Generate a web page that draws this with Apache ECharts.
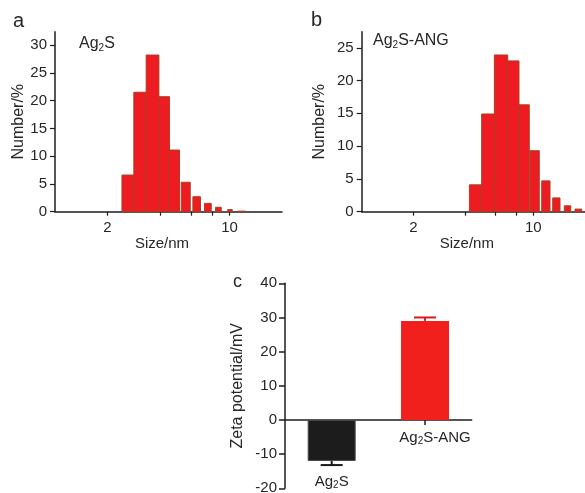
<!DOCTYPE html>
<html>
<head>
<meta charset="utf-8">
<script src="https://cdn.jsdelivr.net/npm/echarts@6/dist/echarts.min.js"></script>
<style>
  html, body { margin: 0; padding: 0; background: #fff; }
  #chart { width: 585px; height: 493px; }
</style>
</head>
<body>
<div id="chart"></div>
<script>
// size distribution, Ag2S (panel a): bin edges in nm and number %
const binLoA = [2.42, 2.83, 3.33, 3.94, 4.53, 5.29, 6.17, 7.19, 8.32, 9.78, 11.1]
const binHiA = [2.83, 3.33, 3.94, 4.53, 5.17, 5.96, 6.82, 7.86, 8.97, 10.37, 12.4]
const pctA = [6.6, 21.5, 28.2, 20.7, 11.1, 5.3, 2.7, 1.5, 0.8, 0.4, 0.1]

// size distribution, Ag2S-ANG (panel b)
const binLoB = [4.24, 5.0, 5.93, 7.09, 8.25, 9.56, 11.19, 12.97, 15.15, 17.49]
const binHiB = [5.0, 5.93, 7.09, 8.25, 9.47, 10.83, 12.51, 14.3, 16.51, 19.13]
const pctB = [4.1, 14.9, 23.9, 23.0, 16.3, 9.3, 4.7, 2.1, 0.9, 0.4]

// zeta potential (panel c)
const samples = ['Ag2S', 'Ag2S-ANG']
const zeta = [-12.0, 29.0]
const zetaErr = [1.2, 1.0]

// ticks
const sizeTicks = [2, 4, 6, 8, 10]
const sizeLabels = [2, 10]
const yTicksA = [0, 5, 10, 15, 20, 25, 30]
const yTicksB = [0, 5, 10, 15, 20, 25]

const FONT = 'Liberation Sans, Arial, sans-serif'
const TXT = '#262626'
const AX = '#1e1e1e'
const RED = '#ee1c22'

const chart = echarts.init(document.getElementById('chart'))

function histItem(params, api) {
  const p0 = api.coord([api.value(0), 0])
  const p1 = api.coord([api.value(1), api.value(2)])
  return {
    type: 'rect',
    shape: { x: p0[0], y: p1[1], width: p1[0] - p0[0], height: p0[1] - p1[1] },
    style: { fill: RED, stroke: '#a8401f', lineWidth: 1 }
  }
}

function errItem(params, api) {
  const a = api.coord([api.value(0), api.value(1)])
  const b = api.coord([api.value(0), api.value(2)])
  const c = params.dataIndex === 0 ? '#1a1a1a' : '#d81c1c'
  return {
    type: 'group',
    children: [
      { type: 'line', shape: { x1: a[0], y1: a[1], x2: b[0], y2: b[1] }, style: { stroke: c, lineWidth: 2 } },
      { type: 'line', shape: { x1: b[0] - 11, y1: b[1], x2: b[0] + 11, y2: b[1] }, style: { stroke: c, lineWidth: 2 } }
    ]
  }
}

// "Ag2S" -> Ag{sub 2}S as rich text
function subLabel(name) {
  return '{t|Ag}{s|2}{t|' + name.slice(3) + '}'
}

const axisLine = { show: true, onZero: true, lineStyle: { color: AX, width: 1.5 } }
const labelStyle = { color: TXT, fontSize: 15, fontFamily: FONT }

function sizeAxis(gridIndex) {
  return {
    type: 'log', gridIndex, min: 1, max: 20, logBase: 10,
    name: 'Size/nm', nameLocation: 'middle', nameGap: 24,
    nameTextStyle: { color: TXT, fontSize: 15, fontFamily: FONT, padding: [0, 13, 0, 0] },
    axisLine,
    axisTick: { show: true, inside: false, customValues: sizeTicks, length: 4, lineStyle: { color: AX, width: 1.2 } },
    axisLabel: Object.assign({ customValues: sizeLabels, margin: 9 }, labelStyle),
    splitLine: { show: false }, minorTick: { show: false }
  }
}

function pctAxis(gridIndex, max, ticks, gap) {
  return {
    type: 'value', gridIndex, min: 0, max,
    name: 'Number/%', nameLocation: 'middle', nameGap: gap,
    nameTextStyle: { color: TXT, fontSize: 16, fontFamily: FONT },
    axisLine,
    axisTick: { show: true, inside: false, customValues: ticks, length: 5, lineStyle: { color: AX, width: 1.2 } },
    axisLabel: Object.assign({ customValues: ticks, margin: 8 }, labelStyle),
    splitLine: { show: false }
  }
}

const barRich = {
  t: { fontSize: 15, color: TXT, fontFamily: FONT },
  s: { fontSize: 10, color: TXT, fontFamily: FONT, padding: [7, 0, 0, 0] }
}

const subRich = {
  t: { fontSize: 16, fill: TXT, fontFamily: FONT },
  s: { fontSize: 10, fill: TXT, fontFamily: FONT, padding: [8, 0, 0, 0] }
}

chart.setOption({
  animation: false,
  backgroundColor: '#fff',
  grid: [
    { left: 55, top: 31.7, width: 227, height: 180, outerBoundsMode: 'none' },
    { left: 361.7, top: 31.7, width: 223.3, height: 180, outerBoundsMode: 'none' },
    { left: 285, top: 283.3, width: 186.7, height: 205, outerBoundsMode: 'none' }
  ],
  xAxis: [
    sizeAxis(0),
    sizeAxis(1),
    {
      type: 'category', gridIndex: 2, data: samples,
      axisLine,
      axisTick: { show: true, inside: false, alignWithLabel: true, length: 5, lineStyle: { color: AX, width: 1.5 } },
      axisLabel: { show: false },
      splitLine: { show: false }
    }
  ],
  yAxis: [
    pctAxis(0, 32.4, yTicksA, 26),
    pctAxis(1, 27.45, yTicksB, 34),
    {
      type: 'value', gridIndex: 2, min: -20, max: 40, interval: 10,
      name: 'Zeta potential/mV', nameLocation: 'middle', nameGap: 39,
      nameTextStyle: { color: TXT, fontSize: 16, fontFamily: FONT },
      axisLine: { show: true, lineStyle: { color: AX, width: 1.5 } },
      axisTick: { show: true, inside: false, length: 6, lineStyle: { color: AX, width: 1.5 } },
      axisLabel: Object.assign({ margin: 8 }, labelStyle),
      splitLine: { show: false }
    }
  ],
  series: [
    {
      type: 'custom', xAxisIndex: 0, yAxisIndex: 0, renderItem: histItem,
      encode: { x: [0, 1], y: 2 },
      data: pctA.map((v, i) => [binLoA[i], binHiA[i], v])
    },
    {
      type: 'custom', xAxisIndex: 1, yAxisIndex: 1, renderItem: histItem,
      encode: { x: [0, 1], y: 2 },
      data: pctB.map((v, i) => [binLoB[i], binHiB[i], v])
    },
    {
      type: 'bar', xAxisIndex: 2, yAxisIndex: 2, barWidth: 48,
      label: {
        show: true, position: 'bottom',
        formatter: p => subLabel(p.name),
        rich: barRich
      },
      data: zeta.map((v, i) => ({
        value: v,
        label: i === 0 ? { distance: 12 } : { distance: 9, offset: [10, 0] },
        itemStyle: i === 0
          ? { color: '#1c1c1c', borderColor: '#4a4a4a', borderWidth: 1 }
          : { color: '#f1201c' }
      }))
    },
    {
      type: 'custom', xAxisIndex: 2, yAxisIndex: 2, renderItem: errItem,
      encode: { x: 0, y: [1, 2] }, z: 3,
      data: zeta.map((v, i) => [i, v, v + Math.sign(v) * zetaErr[i]])
    }
  ],
  graphic: [
    { type: 'text', left: 13, top: 11, style: { text: 'a', fontSize: 20, fill: TXT, fontFamily: FONT } },
    { type: 'text', left: 311, top: 10, style: { text: 'b', fontSize: 20, fill: TXT, fontFamily: FONT } },
    { type: 'text', left: 233, top: 273, style: { text: 'c', fontSize: 18, fill: TXT, fontFamily: FONT } },
    { type: 'text', left: 79, top: 36, style: { text: '{t|Ag}{s|2}{t|S}', rich: subRich } },
    { type: 'text', left: 373, top: 33, style: { text: '{t|Ag}{s|2}{t|S-ANG}', rich: subRich } }
  ]
})
</script>
</body>
</html>
